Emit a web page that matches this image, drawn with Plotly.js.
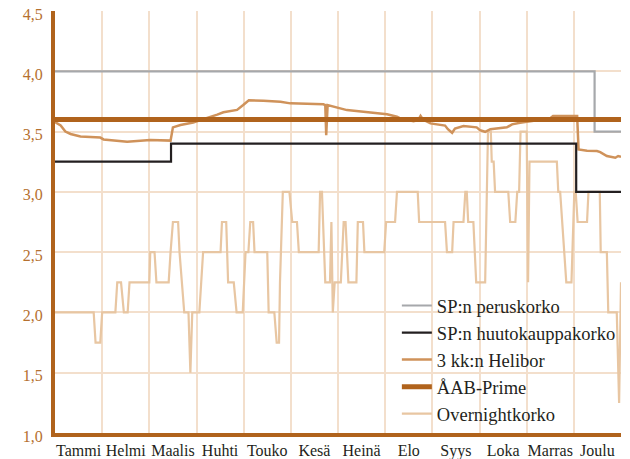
<!DOCTYPE html>
<html>
<head>
<meta charset="utf-8">
<script src="https://cdn.plot.ly/plotly-3.0.1.min.js"></script>
<style>
  html, body { margin: 0; padding: 0; background: #ffffff; }
  #chart { width: 630px; height: 459px; }
</style>
</head>
<body>
<div id="chart"></div>
<script>
// Month labels (x axis: months as equal-width units, 0..12)
var months = ["Tammi", "Helmi", "Maalis", "Huhti", "Touko", "Kesä", "Heinä", "Elo", "Syys", "Loka", "Marras", "Joulu"];

// SP:n peruskorko (step series)
var perusX = [0, 11.44, 12];
var perusY = [4.0, 3.5, 3.5];

// SP:n huutokauppakorko (step series)
var huutoX = [0, 2.46, 11.05, 12];
var huutoY = [3.25, 3.40, 3.00, 3.00];

// ÅAB-Prime
var primeX = [0, 12];
var primeY = [3.6, 3.6];

// 3 kk:n Helibor
var heliborX = [0, 0.12, 0.22, 0.33, 0.54, 0.96, 1.03, 1.28, 1.53, 2.02, 2.45, 2.50, 2.66, 2.93, 3.10, 3.29, 3.44, 3.57, 3.86, 3.99, 4.11, 4.42, 4.78, 4.99, 5.34, 5.69, 5.73, 5.75, 5.78, 5.98, 6.19, 6.54, 6.90, 7.04, 7.25, 7.32, 7.60, 7.70, 7.75, 7.80, 7.96, 8.17, 8.27, 8.33, 8.42, 8.48, 8.66, 8.94, 9.01, 9.12, 9.23, 9.58, 9.69, 9.86, 10.07, 10.30, 10.50, 10.56, 11.07, 11.10, 11.28, 11.49, 11.56, 11.70, 11.88, 11.94, 12.0];
var heliborY = [3.58, 3.55, 3.50, 3.48, 3.46, 3.45, 3.435, 3.425, 3.415, 3.43, 3.425, 3.535, 3.555, 3.575, 3.595, 3.62, 3.64, 3.66, 3.68, 3.72, 3.76, 3.755, 3.747, 3.734, 3.733, 3.726, 3.72, 3.47, 3.72, 3.70, 3.678, 3.664, 3.651, 3.643, 3.623, 3.609, 3.585, 3.595, 3.63, 3.60, 3.568, 3.554, 3.55, 3.52, 3.49, 3.525, 3.546, 3.535, 3.512, 3.498, 3.52, 3.535, 3.56, 3.573, 3.585, 3.595, 3.61, 3.63, 3.63, 3.352, 3.341, 3.338, 3.33, 3.297, 3.283, 3.297, 3.29];

// Overnightkorko
var overX = [0, 0.82, 0.86, 0.96, 1.00, 1.28, 1.32, 1.40, 1.46, 1.54, 1.58, 2.00, 2.02, 2.11, 2.15, 2.41, 2.45, 2.50, 2.61, 2.64, 2.74, 2.83, 2.87, 2.91, 3.06, 3.14, 3.51, 3.54, 3.63, 3.67, 3.79, 3.85, 3.98, 4.04, 4.10, 4.14, 4.20, 4.23, 4.50, 4.53, 4.65, 4.70, 4.75, 4.77, 4.83, 4.97, 5.03, 5.13, 5.17, 5.59, 5.62, 5.66, 5.73, 5.83, 5.86, 5.89, 5.93, 6.06, 6.12, 6.16, 6.22, 6.39, 6.42, 6.53, 6.56, 6.98, 7.02, 7.21, 7.25, 7.69, 7.72, 8.27, 8.31, 8.42, 8.45, 8.66, 8.70, 8.73, 8.76, 8.87, 8.93, 9.12, 9.18, 9.24, 9.26, 9.30, 9.33, 9.61, 9.65, 9.76, 9.80, 9.84, 9.87, 10.00, 10.03, 10.06, 10.64, 10.67, 10.71, 10.84, 10.95, 11.01, 11.04, 11.08, 11.28, 11.31, 11.55, 11.57, 11.70, 11.73, 11.91, 11.96, 12.0];
var overY = [2.0, 2.0, 1.75, 1.75, 2.0, 2.0, 2.25, 2.25, 2.0, 2.0, 2.25, 2.25, 2.5, 2.5, 2.25, 2.25, 2.5, 2.75, 2.75, 2.5, 2.0, 2.0, 1.5, 2.0, 2.0, 2.5, 2.5, 2.75, 2.75, 2.25, 2.25, 2.0, 2.0, 2.5, 2.5, 2.75, 2.75, 2.5, 2.5, 2.0, 2.0, 1.75, 1.75, 2.25, 3.0, 3.0, 2.75, 2.75, 2.5, 2.5, 3.0, 3.0, 2.25, 2.25, 2.75, 2.0, 2.25, 2.25, 2.75, 2.75, 2.25, 2.25, 2.75, 2.75, 2.5, 2.5, 2.75, 2.75, 3.0, 3.0, 2.75, 2.75, 2.5, 2.5, 2.75, 2.75, 3.0, 3.0, 2.75, 2.75, 2.25, 2.25, 3.5, 3.5, 3.25, 3.25, 3.0, 3.0, 2.75, 2.75, 3.0, 3.0, 3.5, 3.5, 2.25, 3.25, 3.25, 3.0, 3.0, 2.25, 2.25, 3.0, 3.0, 2.75, 2.75, 3.0, 3.0, 2.5, 2.5, 2.0, 2.0, 1.25, 2.25];

var names = ["SP:n peruskorko", "SP:n huutokauppakorko", "3 kk:n Helibor", "ÅAB-Prime", "Overnightkorko"];

var BROWN = "#b0631c";
var HELI = "#cf925a";
var OVER = "#e8c6a2";
var GRID = "#f3dfcc";

var traces = [
  { x: overX, y: overY, name: names[4], legendrank: 5, mode: "lines",
    line: { color: OVER, width: 2.2, shape: "linear" } },
  { x: heliborX, y: heliborY, name: names[2], legendrank: 3, mode: "lines",
    line: { color: HELI, width: 2.5 } },
  { x: huutoX, y: huutoY, name: names[1], legendrank: 2, mode: "lines",
    line: { color: "#231f20", width: 2.2, shape: "hv" } },
  { x: perusX, y: perusY, name: names[0], legendrank: 1, mode: "lines",
    line: { color: "#a6a8ab", width: 2.2, shape: "hv" } },
  { x: primeX, y: primeY, name: names[3], legendrank: 4, mode: "lines",
    line: { color: BROWN, width: 5 } }
];

var midVals = months.map(function (m, i) { return i + 0.5; });
var monthEdges = [1, 2, 3, 4, 5, 6, 7, 8, 9, 10, 11];

var layout = {
  width: 630,
  height: 459,
  margin: { l: 55, r: 9, t: 11, b: 26, pad: 0 },
  paper_bgcolor: "#ffffff",
  plot_bgcolor: "#ffffff",
  separators: ", ",
  font: { family: "Liberation Serif, serif", size: 16, color: "#231f20" },
  showlegend: true,
  legend: {
    x: 0.604, y: 0.346, xanchor: "left", yanchor: "top",
    bgcolor: "rgba(0,0,0,0)", borderwidth: 0,
    font: { family: "Liberation Serif, serif", size: 18.5, color: "#231f20" },
    itemwidth: 30
  },
  xaxis: {
    range: [0, 12],
    tickmode: "array",
    tickvals: midVals,
    ticktext: months,
    ticks: "",
    showgrid: false,
    zeroline: false,
    showline: true,
    linecolor: BROWN,
    linewidth: 4,
    ticklabelstandoff: 0,
    tickfont: { size: 16, color: "#231f20" },
    minor: { tickmode: "array", tickvals: monthEdges, showgrid: true, gridcolor: GRID, gridwidth: 2, ticks: "" },
    fixedrange: true
  },
  yaxis: {
    range: [1, 4.5],
    tickmode: "linear",
    tick0: 1,
    dtick: 0.5,
    tickformat: ".1f",
    ticks: "",
    showgrid: false,
    zeroline: false,
    showline: true,
    linecolor: BROWN,
    linewidth: 4,
    ticklabelstandoff: 5,
    ticklabelshift: 3,
    tickfont: { size: 16, color: "#b5702f" },
    minor: { tickmode: "array", tickvals: [1.5, 2, 2.5, 3, 3.5, 4], showgrid: true, gridcolor: GRID, gridwidth: 2, ticks: "" },
    fixedrange: true
  }
};

Plotly.newPlot("chart", traces, layout, { displayModeBar: false, staticPlot: true });
</script>
</body>
</html>
